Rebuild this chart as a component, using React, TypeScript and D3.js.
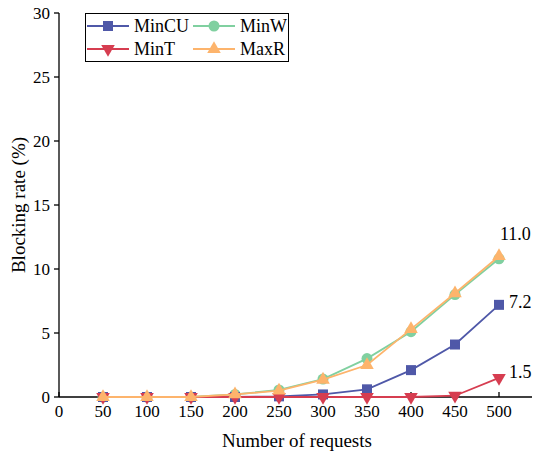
import React from "react";
import * as d3 from "d3";

const requests = [50, 100, 150, 200, 250, 300, 350, 400, 450, 500];
const minCU = [0, 0, 0, 0, 0.05, 0.2, 0.6, 2.1, 4.1, 7.2];
const minW = [0, 0, 0, 0.2, 0.55, 1.4, 3.0, 5.1, 8.0, 10.8];
const minT = [0, 0, 0, 0, 0, 0, 0, 0, 0.1, 1.5];
const maxR = [0, 0, 0, 0.2, 0.5, 1.35, 2.5, 5.3, 8.1, 11.0];
const xTicks = [0, 50, 100, 150, 200, 250, 300, 350, 400, 450, 500];
const yTicks = [0, 5, 10, 15, 20, 25, 30];
const labels = [
  { text: "11.0", value: 11.0, dx: 1, dy: -23 },
  { text: "7.2", value: 7.2, dx: 10, dy: -3 },
  { text: "1.5", value: 1.5, dx: 10, dy: -6 },
];

const series = [
  { name: "MinCU", values: minCU, color: "#4f58a8", marker: "square" },
  { name: "MinW", values: minW, color: "#80d0a0", marker: "circle" },
  { name: "MinT", values: minT, color: "#d63d50", marker: "down" },
  { name: "MaxR", values: maxR, color: "#fdb46c", marker: "up" },
];
const drawOrder = [1, 0, 2, 3];

const FONT = "Liberation Serif, Tinos, Times New Roman, DejaVu Serif, serif";

function Marker({ type, x, y, color }: { type: string; x: number; y: number; color: string }) {
  if (type === "square") return <rect x={x - 5} y={y - 5} width={10} height={10} fill={color} />;
  if (type === "circle") return <circle cx={x} cy={y} r={5.5} fill={color} />;
  const sym = d3.symbol().type(d3.symbolTriangle).size(80)();
  return <path d={sym || ""} transform={`translate(${x},${y}) rotate(${type === "down" ? 180 : 0})`} fill={color} />;
}

export default function App() {
  const x = d3.scaleLinear().domain([0, 500]).range([59, 499]);
  const y = d3.scaleLinear().domain([0, 30]).range([397, 13]);
  const line = d3
    .line<number>()
    .x((_, i) => x(requests[i]))
    .y((d) => y(d));

  return (
    <svg width={533} height={456} style={{ position: "absolute", left: 0, top: 0, fontFamily: FONT }}>
      <rect width={533} height={456} fill="white" />
      <line x1={x(0)} x2={532} y1={y(0)} y2={y(0)} stroke="black" strokeWidth={1.3} />
      <line x1={x(0)} x2={x(0)} y1={y(30)} y2={y(0)} stroke="black" strokeWidth={1.3} />
      {yTicks.map((t) => (
        <g key={t}>
          <line x1={x(0) - 5} x2={x(0)} y1={y(t)} y2={y(t)} stroke="black" strokeWidth={1.3} />
          <text x={x(0) - 9} y={y(t)} dy="0.35em" textAnchor="end" fontSize={17}>
            {t}
          </text>
        </g>
      ))}
      {xTicks.map((t) => (
        <g key={t}>
          <line x1={x(t)} x2={x(t)} y1={y(0)} y2={y(0) - 5} stroke="black" strokeWidth={1.3} />
          <text x={x(t)} y={y(0) + 20} textAnchor="middle" fontSize={17}>
            {t}
          </text>
        </g>
      ))}
      <text x={297} y={447} textAnchor="middle" fontSize={19}>
        Number of requests
      </text>
      <text transform={`translate(25,${205}) rotate(-90)`} textAnchor="middle" fontSize={19}>
        Blocking rate (%)
      </text>
      {drawOrder.map((si) => {
        const s = series[si];
        return (
          <g key={s.name}>
            <path d={line(s.values) || ""} fill="none" stroke={s.color} strokeWidth={1.8} />
            {s.values.map((v, i) => (
              <Marker key={i} type={s.marker} x={x(requests[i])} y={y(v)} color={s.color} />
            ))}
          </g>
        );
      })}
      {labels.map((l) => (
        <text key={l.text} x={x(500) + l.dx} y={y(l.value) + l.dy} dy="0.35em" fontSize={18}>
          {l.text}
        </text>
      ))}
      <rect x={85.5} y={13.5} width={203} height={48} fill="white" stroke="black" strokeWidth={1} />
      {series.map((s, i) => {
        const cx = i % 2 === 0 ? 87 : 193;
        const cy = i < 2 ? 26 : 49;
        return (
          <g key={s.name}>
            <line x1={cx} x2={cx + 42} y1={cy} y2={cy} stroke={s.color} strokeWidth={1.8} />
            <Marker type={s.marker} x={cx + 21} y={cy} color={s.color} />
            <text x={cx + 47} y={cy} dy="0.35em" fontSize={18}>
              {s.name}
            </text>
          </g>
        );
      })}
    </svg>
  );
}
